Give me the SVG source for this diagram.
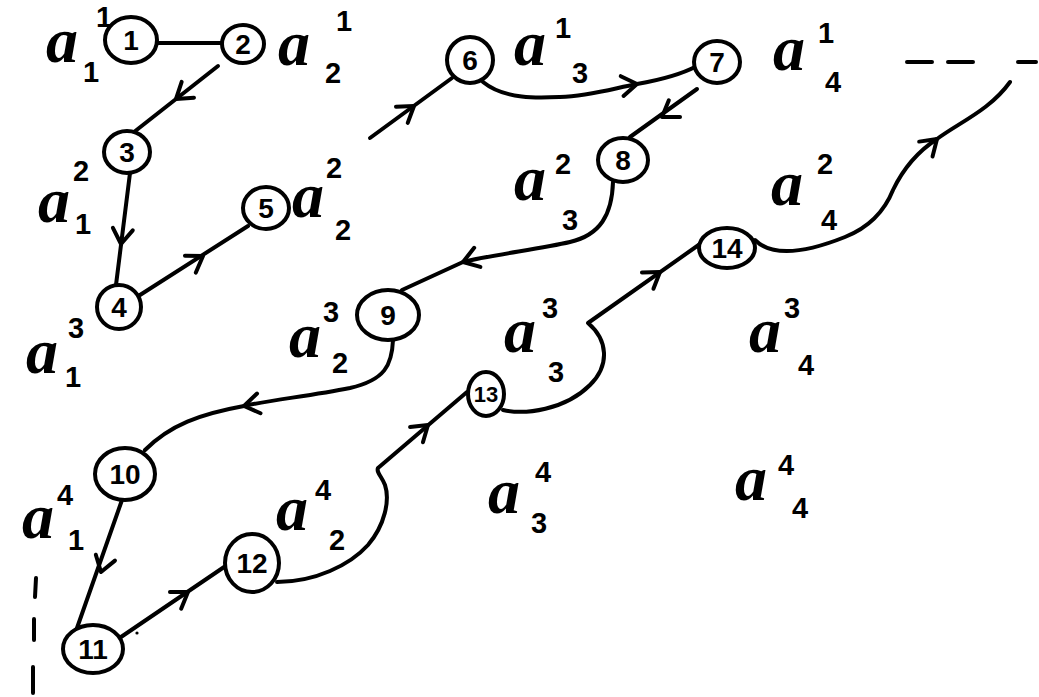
<svg xmlns="http://www.w3.org/2000/svg" xmlns:xlink="http://www.w3.org/1999/xlink" width="1039" height="697" viewBox="0 0 1039 697">
<style>
.bg{fill:#fff}
.node ellipse{fill:#fff;stroke:#000;stroke-width:4}
.node text{font-family:"Liberation Sans",Arial,sans-serif;font-weight:bold;font-size:28px;text-anchor:middle;dominant-baseline:central;fill:#000}
.conn path,.conn line,.ah{fill:none;stroke:#000;stroke-width:4;stroke-linecap:round;stroke-linejoin:round}
.lbl{text-anchor:middle;fill:#000}
.a{font-family:"Liberation Serif","Times New Roman",serif;font-style:italic;font-weight:bold;font-size:64px}
.d{font-family:"Liberation Sans",Arial,sans-serif;font-weight:bold;font-size:29px}
</style>
<defs>
<path id="ah" class="ah" d="M-15,-10 L0,0 L-15,10"/>
</defs>
<rect class="bg" x="0" y="0" width="1039" height="697"/>

<g id="connectors" class="conn">
<path d="M157,43 L222,43"/>
<path d="M218,66 L134,132"/>
<use xlink:href="#ah" href="#ah" transform="translate(176,99) rotate(142)"/>
<path d="M130,173 L116,285"/>
<use xlink:href="#ah" href="#ah" transform="translate(121,244) rotate(97)"/>
<path d="M140,295 L248,226"/>
<use xlink:href="#ah" href="#ah" transform="translate(203,256) rotate(-33)"/>
<path d="M370,138 L452,78"/>
<use xlink:href="#ah" href="#ah" transform="translate(414,106) rotate(-36)"/>
<path d="M483,82 C505,100 540,98 560,97 C590,96 615,88 637,84 C660,80 680,75 697,66"/>
<use xlink:href="#ah" href="#ah" transform="translate(637,84) rotate(-8)"/>
<path d="M697,89 L630,137"/>
<use xlink:href="#ah" href="#ah" transform="translate(662,117) rotate(146)"/>
<path d="M613,182 C612,215 600,235 570,242 C540,249 490,255 463,262 L402,290"/>
<use xlink:href="#ah" href="#ah" transform="translate(463,262) rotate(162)"/>
<path d="M393,340 C392,365 385,380 350,388 C310,396 270,400 244,406 C200,414 170,425 145,450"/>
<use xlink:href="#ah" href="#ah" transform="translate(244,406) rotate(170)"/>
<path d="M122,500 L77,628"/>
<use xlink:href="#ah" href="#ah" transform="translate(101,572) rotate(107)"/>
<path d="M121,637 L230,563"/>
<use xlink:href="#ah" href="#ah" transform="translate(188,592) rotate(-34)"/>
<path d="M277,582 C315,582 350,565 368,545 C385,525 390,500 385,485 C382,477 376,472 378,468 L467,392"/>
<use xlink:href="#ah" href="#ah" transform="translate(428,425) rotate(-40)"/>
<path d="M503,410 C525,415 565,410 590,385 C610,365 608,340 588,323 L700,244"/>
<use xlink:href="#ah" href="#ah" transform="translate(660,272) rotate(-35)"/>
<path d="M755,240 C770,255 800,255 845,237 C870,227 885,210 893,190 C905,165 920,150 937,139 C960,122 990,110 1010,82"/>
<use xlink:href="#ah" href="#ah" transform="translate(937,139) rotate(-42)"/>
<path d="M907,62 L932,62 M948,62 L973,62 M1018,62 L1036,62"/>
<path d="M36,578 L35,597 M34,619 L34,640 M33,667 L33,693"/>
<circle cx="137" cy="633" r="1.6" fill="#000"/>
</g>

<g id="node1" class="node"><ellipse cx="131" cy="40" rx="26" ry="23"/><text x="131" y="40">1</text></g>
<g id="node2" class="node"><ellipse cx="243" cy="44" rx="21" ry="19"/><text x="243" y="44">2</text></g>
<g id="node3" class="node"><ellipse cx="127" cy="152" rx="23" ry="21"/><text x="127" y="152">3</text></g>
<g id="node4" class="node"><ellipse cx="119" cy="307" rx="22" ry="22"/><text x="119" y="307">4</text></g>
<g id="node5" class="node"><ellipse cx="266" cy="208" rx="23" ry="21"/><text x="266" y="208">5</text></g>
<g id="node6" class="node"><ellipse cx="470" cy="60" rx="23" ry="23"/><text x="470" y="60">6</text></g>
<g id="node7" class="node"><ellipse cx="717" cy="62" rx="23" ry="21"/><text x="717" y="62">7</text></g>
<g id="node8" class="node"><ellipse cx="623" cy="160" rx="25" ry="22"/><text x="623" y="160">8</text></g>
<g id="node9" class="node"><ellipse cx="388" cy="315" rx="31" ry="25"/><text x="388" y="315">9</text></g>
<g id="node10" class="node"><ellipse cx="125" cy="474" rx="30" ry="26"/><text x="125" y="474">10</text></g>
<g id="node11" class="node"><ellipse cx="93" cy="649" rx="30" ry="24"/><text x="93" y="649">11</text></g>
<g id="node12" class="node"><ellipse cx="252" cy="563" rx="27" ry="29"/><text x="252" y="563">12</text></g>
<g id="node13" class="node"><ellipse cx="486" cy="394" rx="18" ry="22"/><text x="486" y="394" style="font-size:22px">13</text></g>
<g id="node14" class="node"><ellipse cx="727" cy="248" rx="28" ry="20"/><text x="727" y="248">14</text></g>

<g id="labels">
<text class="lbl"><tspan class="a" x="62" y="62">a</tspan><tspan class="d" x="104" y="27">1</tspan><tspan class="d" x="91" y="82">1</tspan></text>
<text class="lbl"><tspan class="a" x="294" y="65">a</tspan><tspan class="d" x="344" y="31">1</tspan><tspan class="d" x="333" y="83">2</tspan></text>
<text class="lbl"><tspan class="a" x="530" y="65">a</tspan><tspan class="d" x="563" y="38">1</tspan><tspan class="d" x="580" y="83">3</tspan></text>
<text class="lbl"><tspan class="a" x="789" y="70">a</tspan><tspan class="d" x="826" y="43">1</tspan><tspan class="d" x="833" y="92">4</tspan></text>
<text class="lbl"><tspan class="a" x="54" y="222">a</tspan><tspan class="d" x="81" y="181">2</tspan><tspan class="d" x="83" y="234">1</tspan></text>
<text class="lbl"><tspan class="a" x="308" y="217">a</tspan><tspan class="d" x="334" y="178">2</tspan><tspan class="d" x="343" y="240">2</tspan></text>
<text class="lbl"><tspan class="a" x="530" y="200">a</tspan><tspan class="d" x="563" y="174">2</tspan><tspan class="d" x="570" y="230">3</tspan></text>
<text class="lbl"><tspan class="a" x="787" y="205">a</tspan><tspan class="d" x="825" y="174">2</tspan><tspan class="d" x="829" y="230">4</tspan></text>
<text class="lbl"><tspan class="a" x="42" y="373">a</tspan><tspan class="d" x="76" y="338">3</tspan><tspan class="d" x="73" y="387">1</tspan></text>
<text class="lbl"><tspan class="a" x="305" y="357">a</tspan><tspan class="d" x="331" y="322">3</tspan><tspan class="d" x="340" y="373">2</tspan></text>
<text class="lbl"><tspan class="a" x="520" y="352">a</tspan><tspan class="d" x="550" y="318">3</tspan><tspan class="d" x="556" y="382">3</tspan></text>
<text class="lbl"><tspan class="a" x="765" y="352">a</tspan><tspan class="d" x="792" y="318">3</tspan><tspan class="d" x="806" y="375">4</tspan></text>
<text class="lbl"><tspan class="a" x="38" y="538">a</tspan><tspan class="d" x="65" y="505">4</tspan><tspan class="d" x="76" y="550">1</tspan></text>
<text class="lbl"><tspan class="a" x="292" y="530">a</tspan><tspan class="d" x="323" y="500">4</tspan><tspan class="d" x="337" y="550">2</tspan></text>
<text class="lbl"><tspan class="a" x="504" y="513">a</tspan><tspan class="d" x="543" y="482">4</tspan><tspan class="d" x="539" y="533">3</tspan></text>
<text class="lbl"><tspan class="a" x="751" y="500">a</tspan><tspan class="d" x="786" y="475">4</tspan><tspan class="d" x="800" y="518">4</tspan></text>
</g>
</svg>
